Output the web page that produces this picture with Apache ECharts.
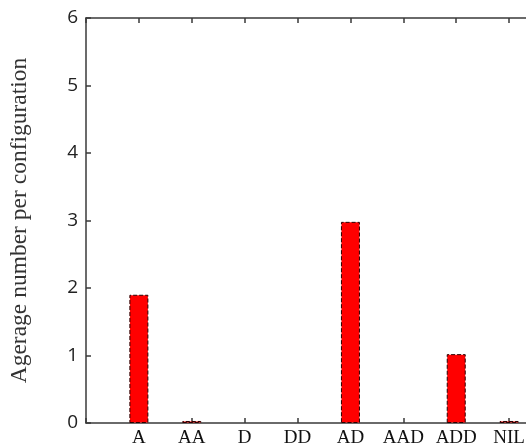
<!DOCTYPE html>
<html>
<head>
<meta charset="utf-8">
<script src="https://cdn.jsdelivr.net/npm/echarts@6/dist/echarts.min.js"></script>
<style>
  html, body { margin: 0; padding: 0; background: #fff; overflow: hidden; }
  /* the plot box is wider than the window; its right side runs off the page */
  #chart { width: 600px; height: 448px; }
</style>
</head>
<body>
<div id="chart"></div>
<script>
// Configuration types along the horizontal axis
const categories = ['A', 'AA', 'D', 'DD', 'AD', 'AAD', 'ADD', 'NIL'];
// Average count of each type per configuration
const averages = [1.9, 0.03, 0, 0, 2.98, 0, 1.02, 0.03];
// Vertical tick values
const yTicks = [0, 1, 2, 3, 4, 5, 6];

const axisColor = '#3a3a3a';
const serif = '"Liberation Serif", "Times New Roman", serif';
const sans = '"Open Sans", "Liberation Sans", sans-serif';

const chart = echarts.init(document.getElementById('chart'), null, { renderer: 'canvas' });

// Bars are positioned on a numeric axis: category i sits at x = i + 1.
// Empty bars get no outline so nothing shows at zero.
const barData = categories.map((c, i) => ({
  value: [i + 1, averages[i]],
  itemStyle: averages[i] === 0 ? { borderWidth: 0 } : undefined
}));

const xCommon = {
  type: 'value',
  min: 0,
  max: categories.length + 1,
  interval: 1,
  splitLine: { show: false },
  axisLine: { show: true, onZero: false, lineStyle: { color: axisColor, width: 1.5 } },
  axisTick: {
    show: true, inside: true, length: 5,
    lineStyle: { color: axisColor, width: 1.5 }
  }
};

chart.setOption({
  animation: false,
  backgroundColor: '#ffffff',
  grid: {
    left: 86, top: 18, width: 476, height: 405,
    containLabel: false,
    outerBoundsMode: 'none'
  },
  xAxis: [
    Object.assign({}, xCommon, {
      position: 'bottom',
      axisLabel: {
        margin: 6,
        color: '#111',
        fontFamily: serif,
        fontSize: 19,
        formatter: v => categories[v - 1] || ''
      }
    }),
    Object.assign({}, xCommon, {
      position: 'top',
      axisLabel: { show: false }
    })
  ],
  yAxis: {
    type: 'value',
    min: yTicks[0],
    max: yTicks[yTicks.length - 1],
    interval: 1,
    name: 'Agerage number per configuration',
    nameLocation: 'middle',
    nameRotate: 90,
    nameGap: 54,
    nameTextStyle: { fontFamily: serif, fontSize: 23.5, color: '#333' },
    splitLine: { show: false },
    axisLine: { show: true, lineStyle: { color: axisColor, width: 1.5 } },
    axisTick: { show: true, inside: true, length: 5, lineStyle: { color: axisColor, width: 1.5 } },
    axisLabel: { margin: 8, color: '#222', fontFamily: sans, fontSize: 19 }
  },
  series: [{
    type: 'bar',
    data: barData,
    barWidth: 19,
    itemStyle: {
      color: '#ff0000',
      borderColor: '#2a0000',
      borderWidth: 1,
      borderType: 'dashed'
    }
  }]
});
</script>
</body>
</html>
